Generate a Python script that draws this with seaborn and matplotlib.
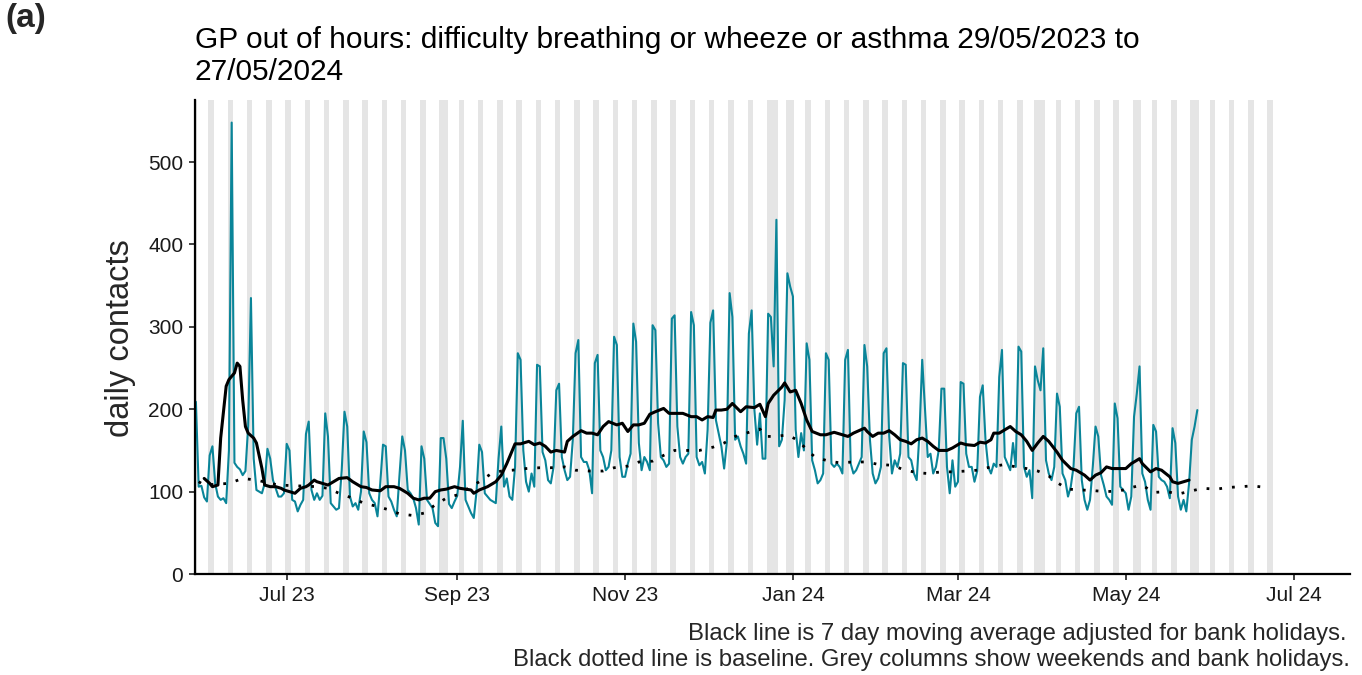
import numpy as np
import pandas as pd
import matplotlib
matplotlib.use("Agg")
import matplotlib.pyplot as plt
import matplotlib.dates as mdates
import seaborn as sns

# ---------------- data ----------------
start_date = "2023-05-29"
# daily contacts, one row per week (Mon..Sun), last value = Mon 27/05/2024
daily_contacts = [
    209, 106, 107, 93, 88, 144, 155,
    110, 94, 90, 92, 86, 150, 548,
    135, 130, 127, 120, 125, 180, 335,
    140, 102, 100, 98, 110, 152, 140,
    114, 104, 94, 94, 98, 158, 150,
    90, 88, 76, 84, 90, 170, 185,
    102, 90, 98, 90, 95, 195, 167,
    86, 82, 78, 80, 126, 197, 179,
    94, 82, 86, 78, 100, 173, 160,
    98, 90, 86, 70, 110, 157, 155,
    94, 88, 78, 70, 120, 167, 150,
    102, 98, 92, 80, 60, 155, 140,
    90, 85, 80, 62, 58, 165, 165,
    140, 85, 80, 88, 95, 130, 186,
    90, 82, 74, 68, 100, 157, 148,
    98, 94, 90, 88, 86, 140, 179,
    106, 116, 94, 90, 130, 268, 260,
    150, 112, 100, 122, 106, 254, 252,
    148, 138, 114, 110, 130, 223, 231,
    142, 126, 114, 118, 163, 268, 284,
    142, 136, 136, 126, 98, 256, 266,
    150, 142, 126, 130, 150, 288, 278,
    142, 118, 118, 134, 146, 304, 282,
    159, 126, 142, 136, 126, 302, 296,
    183, 142, 138, 130, 134, 310, 314,
    179, 142, 134, 142, 146, 318, 302,
    142, 132, 136, 122, 175, 305, 320,
    187, 171, 155, 128, 160, 341, 312,
    163, 167, 155, 146, 134, 292, 320,
    199, 157, 195, 140, 140, 316, 312,
    252, 430, 155, 163, 211, 365, 349,
    337, 175, 142, 171, 150, 280, 260,
    138, 126, 110, 114, 122, 268, 260,
    134, 130, 134, 130, 122, 260, 272,
    134, 122, 126, 134, 142, 278, 252,
    163, 122, 110, 116, 130, 268, 274,
    167, 122, 138, 130, 146, 256, 254,
    142, 138, 122, 114, 171, 260, 200,
    142, 146, 122, 130, 150, 225, 225,
    130, 98, 138, 106, 112, 233, 231,
    146, 130, 130, 112, 125, 215, 229,
    163, 130, 122, 134, 130, 239, 272,
    142, 134, 126, 159, 130, 276, 270,
    130, 118, 126, 92, 252, 235, 223,
    274, 138, 122, 114, 130, 219, 203,
    122, 114, 94, 106, 130, 195, 203,
    114, 90, 78, 90, 130, 179, 167,
    120, 108, 94, 90, 84, 207, 189,
    106, 102, 98, 78, 94, 191, 219,
    252, 122, 112, 90, 78, 181, 173,
    118, 114, 112, 106, 92, 177, 159,
    94, 78, 90, 76, 110, 163, 179,
    199,
]

# 7 day moving average (day offset from start, value)
ma_days = [3, 5, 6, 8, 9, 11, 12, 14, 15, 16, 17, 18, 19, 21, 22, 24, 25, 27, 29, 31,
           32, 34, 36, 38, 40, 41, 43, 44, 46, 48, 50, 52, 55, 57, 60, 62, 64, 67, 69, 72,
           74, 77, 79, 81, 83, 85, 87, 89, 91, 94, 96, 100, 101, 103, 106, 107, 109, 111, 113, 115,
           116, 118, 121, 123, 125, 127, 129, 131, 134, 135, 137, 140, 142, 144, 146, 148, 150, 153, 155, 157,
           159, 161, 163, 165, 167, 170, 172, 175, 177, 180, 182, 184, 186, 188, 189, 191, 193, 195, 198, 200,
           203, 205, 207, 208, 210, 213, 214, 216, 218, 220, 222, 224, 227, 229, 232, 234, 237, 239, 241, 243,
           244, 246, 248, 250, 252, 254, 256, 258, 260, 262, 264, 266, 268, 270, 273, 275, 278, 280, 283, 285,
           287, 289, 290, 292, 293, 296, 298, 300, 302, 304, 306, 308, 310, 313, 315, 318, 320, 323, 325, 327,
           329, 331, 333, 336, 338, 340, 341, 343, 344, 347, 349, 351, 354, 355, 357, 359, 361]
ma_values = [116, 110, 106, 108, 165, 228, 236, 244, 256, 252, 211, 179, 171, 165, 159, 128, 108, 106, 106, 104,
             102, 100, 98, 104, 106, 108, 114, 112, 110, 108, 112, 116, 117, 112, 106, 105, 102, 101, 106, 106,
             104, 98, 92, 90, 92, 92, 100, 102, 103, 106, 104, 102, 98, 102, 106, 108, 112, 120, 134, 150,
             158, 158, 161, 157, 159, 155, 148, 150, 148, 161, 167, 174, 171, 171, 169, 179, 185, 181, 183, 173,
             181, 181, 183, 194, 197, 201, 195, 195, 195, 191, 191, 187, 191, 190, 199, 199, 200, 207, 197, 203,
             202, 206, 191, 207, 217, 227, 232, 221, 223, 207, 187, 173, 169, 169, 172, 170, 167, 171, 174, 177,
             173, 167, 171, 171, 174, 169, 163, 161, 158, 163, 165, 161, 155, 150, 150, 153, 159, 157, 156, 160,
             159, 163, 171, 171, 173, 179, 173, 169, 161, 150, 159, 167, 161, 148, 138, 128, 126, 120, 114, 120,
             123, 130, 128, 128, 128, 134, 136, 140, 134, 124, 128, 126, 118, 112, 110, 112, 114]

# baseline (day offset from start, value)
baseline_days = [1, 3, 12, 17, 22, 30, 44, 48, 52, 57, 61, 66, 70, 74, 79, 83, 87, 91, 95, 103,
                 107, 111, 115, 120, 125, 129, 134, 138, 143, 148, 152, 157, 161, 166, 170, 174, 179, 183, 188, 192,
                 196, 201, 205, 207, 211, 215, 219, 222, 225, 230, 234, 239, 244, 248, 253, 257, 262, 266, 271, 275,
                 280, 284, 289, 294, 298, 302, 306, 310, 313, 317, 322, 327, 331, 336, 340, 344, 348, 353, 357, 362,
                 366, 371, 375, 380, 384, 389]
baseline_values = [112, 108, 110, 116, 114, 108, 106, 104, 98, 92, 86, 82, 78, 73, 71, 74, 84, 92, 96, 112,
                   121, 125, 126, 128, 129, 129, 130, 126, 125, 125, 129, 131, 136, 137, 144, 150, 150, 150, 154, 159,
                   167, 172, 176, 167, 167, 169, 162, 151, 142, 137, 135, 136, 136, 133, 132, 127, 123, 122, 124, 124,
                   125, 126, 130, 133, 130, 128, 125, 119, 111, 103, 102, 101, 100, 101, 105, 108, 99, 100, 97, 101,
                   104, 103, 105, 106, 107, 105]

bank_holidays = ["2023-05-29", "2023-08-28", "2023-12-25", "2023-12-26", "2024-01-01",
                 "2024-03-29", "2024-04-01", "2024-05-06", "2024-05-27"]
shade_start = "2023-05-27"
shade_end = "2024-06-23"

x_tick_dates = ["2023-07-01", "2023-09-01", "2023-11-01", "2024-01-01", "2024-03-01", "2024-05-01", "2024-07-01"]
x_tick_labels = ["Jul 23", "Sep 23", "Nov 23", "Jan 24", "Mar 24", "May 24", "Jul 24"]
y_ticks = [0, 100, 200, 300, 400, 500]

title_lines = ["GP out of hours: difficulty breathing or wheeze or asthma 29/05/2023 to",
               "27/05/2024"]
caption_lines = ["Black line is 7 day moving average adjusted for bank holidays.",
                 "Black dotted line is baseline. Grey columns show weekends and bank holidays."]

# ---------------- build frames ----------------
start = pd.Timestamp(start_date)
df = pd.DataFrame({"date": pd.date_range(start, periods=len(daily_contacts), freq="D"),
                   "contacts": daily_contacts})
df_ma = pd.DataFrame({"date": start + pd.to_timedelta(ma_days, unit="D"), "ma": ma_values})
df_bl = pd.DataFrame({"date": start + pd.to_timedelta(baseline_days, unit="D"), "baseline": baseline_values})

# ---------------- plot ----------------
sns.set_theme(style="white")
plt.rcParams["font.family"] = ["Liberation Sans", "DejaVu Sans"]

W, H = 1362, 675
fig = plt.figure(figsize=(W / 100, H / 100), dpi=100)
ax = fig.add_axes([195 / W, (H - 574) / H, (1350 - 195) / W, (574 - 100) / H])

# grey columns: weekends and bank holidays
bh = set(pd.to_datetime(bank_holidays))
for d in pd.date_range(shade_start, shade_end, freq="D"):
    if d.weekday() >= 5 or d in bh:
        x0 = mdates.date2num(d - pd.Timedelta(hours=12))
        x1 = mdates.date2num(d + pd.Timedelta(hours=12))
        ax.axvspan(x0, x1, color="#e5e5e5", lw=0, zorder=0)

teal = "#0a8599"
sns.lineplot(data=df, x="date", y="contacts", ax=ax, color=teal, lw=1.5, zorder=2)
sns.lineplot(data=df_bl, x="date", y="baseline", ax=ax, color="black", lw=2.0,
             linestyle=(0, (1, 3.6)), zorder=3)
sns.lineplot(data=df_ma, x="date", y="ma", ax=ax, color="black", lw=2.2, zorder=4)

xmin = mdates.date2num(start - pd.Timedelta(hours=8))
xmax = mdates.date2num(start + pd.Timedelta(days=419.5))
ax.set_xlim(xmin, xmax)
ax.set_ylim(0, 548 * 1.05)

ax.set_xticks(mdates.date2num(pd.to_datetime(x_tick_dates)))
ax.set_xticklabels(x_tick_labels)
ax.set_yticks(y_ticks)
ax.set_yticklabels([str(v) for v in y_ticks])
ax.set_xlabel("")
ax.set_ylabel("")

for s in ["top", "right"]:
    ax.spines[s].set_visible(False)
for s in ["left", "bottom"]:
    ax.spines[s].set_visible(True)
    ax.spines[s].set_color("black")
    ax.spines[s].set_linewidth(1.6)
ax.tick_params(axis="both", which="major", direction="out", length=4.5, width=1.3,
               color="#333333", labelsize=15, labelcolor="#1a1a1a", pad=4,
               bottom=True, left=True)
ax.grid(False)
ax.set_facecolor("white")

fig.text(195 / W, 1 - 48 / H, title_lines[0], ha="left", va="baseline", fontsize=21.5, color="black")
fig.text(195 / W, 1 - 80 / H, title_lines[1], ha="left", va="baseline", fontsize=21.5, color="black")
fig.text(5 / W, 1 - 3 / H, "(a)", ha="left", va="top", fontsize=24, fontweight="bold")
fig.text(120 / W, (H - 338) / H, "daily contacts", rotation=90, ha="center", va="center",
         fontsize=23.5)
fig.text(1347 / W, 1 - 640 / H, caption_lines[0], ha="right", va="baseline", fontsize=17.2)
fig.text(1350 / W, 1 - 666 / H, caption_lines[1], ha="right", va="baseline", fontsize=17.2)

fig.savefig("out.png", dpi=100)
